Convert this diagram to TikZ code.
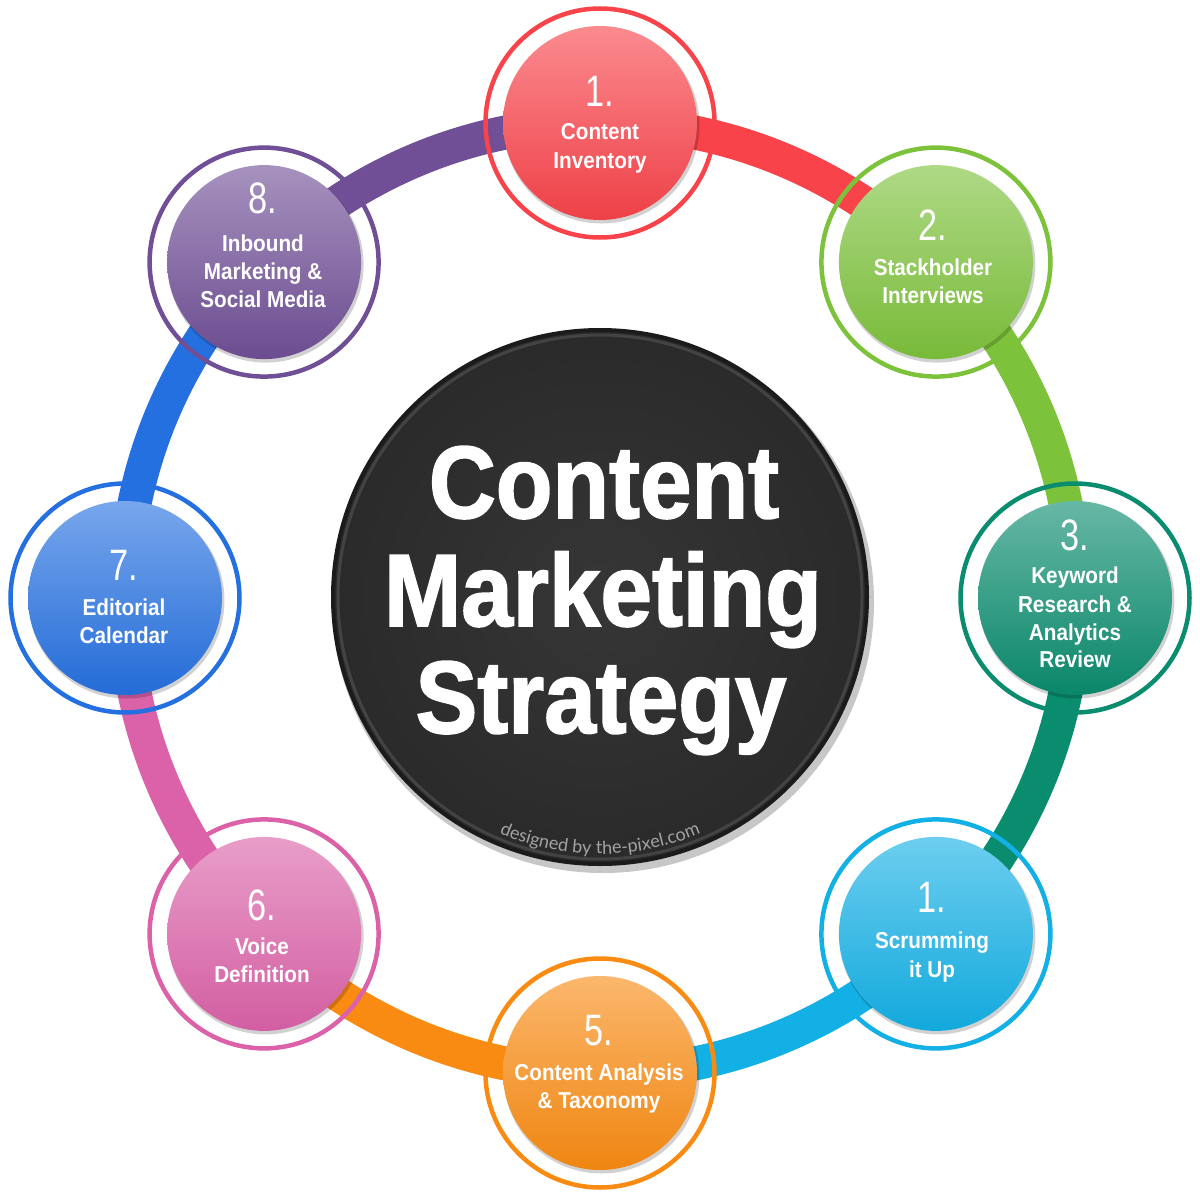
\documentclass[tikz,border=0pt]{standalone}
\usepackage{fontspec}
\setmainfont{Liberation Sans}
\newfontfamily\condfont{Liberation Sans}[FakeStretch=0.9]
\newfontfamily\numfont{Liberation Sans}[FakeStretch=0.78]
\newfontfamily\titlefont{Liberation Sans}[FakeStretch=0.9,FakeBold=1.6]
\newfontfamily\creditfont{Lato}
\usetikzlibrary{decorations.text}
\definecolor{cRed}{HTML}{F8434A}
\definecolor{cGreen}{HTML}{7DC23B}
\definecolor{cTeal}{HTML}{0A8C6E}
\definecolor{cCyan}{HTML}{13B0E5}
\definecolor{cOrange}{HTML}{F98B12}
\definecolor{cPink}{HTML}{DB62A8}
\definecolor{cBlue}{HTML}{2570E0}
\definecolor{cPurple}{HTML}{704F96}
\definecolor{hubdark}{HTML}{1B1B1B}
\definecolor{hubmid}{HTML}{363636}
\definecolor{credit}{HTML}{A3A3A3}
\begin{document}
\begin{tikzpicture}[x=1pt,y=1pt,
  band/.style={draw=#1, line width=34pt},
  ringnode/.style={circle, draw=#1, line width=4.5pt, minimum size=229pt, inner sep=0pt},
  disknode/.style={circle, minimum size=194pt, inner sep=0pt,
     top color=#1!62!white, middle color=#1, bottom color=#1!96!black},
  disksh/.style={circle, minimum size=196pt, inner sep=0pt, fill=black, opacity=0.18},
  numst/.style={anchor=base, text=white, font=\numfont\fontsize{44}{44}\selectfont, inner sep=0pt},
  linest/.style={anchor=base, text=white, font=\condfont\bfseries\fontsize{23}{28}\selectfont, inner sep=0pt},
  titlest/.style={anchor=base, text=white, font=\titlefont\bfseries\fontsize{103}{107}\selectfont,
     inner sep=0pt, text height=76pt, text depth=22pt}
]
\useasboundingbox (0,0) rectangle (1200,-1196);
\fill[white] (0,0) rectangle (1200,-1196);

% centres of the eight steps
\coordinate (n1) at (600,-123);
\coordinate (n2) at (935.9,-262.1);
\coordinate (n3) at (1075,-598);
\coordinate (n4) at (935.9,-933.9);
\coordinate (n5) at (600,-1073);
\coordinate (n6) at (264.1,-933.9);
\coordinate (n7) at (125,-598);
\coordinate (n8) at (264.1,-262.1);

% ring bands
\draw[band=cRed]    (n1) arc[start angle=90,   end angle=45,   radius=475];
\draw[band=cGreen]  (n2) arc[start angle=45,   end angle=0,    radius=475];
\draw[band=cTeal]   (n3) arc[start angle=0,    end angle=-45,  radius=475];
\draw[band=cCyan]   (n4) arc[start angle=-45,  end angle=-90,  radius=475];
\draw[band=cOrange] (n5) arc[start angle=-90,  end angle=-135, radius=475];
\draw[band=cPink]   (n6) arc[start angle=-135, end angle=-180, radius=475];
\draw[band=cBlue]   (n7) arc[start angle=-180, end angle=-225, radius=475];
\draw[band=cPurple] (n8) arc[start angle=135,  end angle=90,   radius=475];

% outer rings
\node[ringnode=cRed]    (r1) at (n1) {};
\node[ringnode=cGreen]  (r2) at (n2) {};
\node[ringnode=cTeal]   (r3) at (n3) {};
\node[ringnode=cCyan]   (r4) at (n4) {};
\node[ringnode=cOrange] (r5) at (n5) {};
\node[ringnode=cPink]   (r6) at (n6) {};
\node[ringnode=cBlue]   (r7) at (n7) {};
\node[ringnode=cPurple] (r8) at (n8) {};

% inner discs (shadow + glossy fill)
\foreach \n in {1,...,8} {
  \node[disksh] (s\n) at ([shift={(1.5,-2.5)}]n\n) {};
}
\node[disknode=cRed]    (d1) at (n1) {};
\node[disknode=cGreen]  (d2) at (n2) {};
\node[disknode=cTeal]   (d3) at (n3) {};
\node[disknode=cCyan]   (d4) at (n4) {};
\node[disknode=cOrange] (d5) at (n5) {};
\node[disknode=cPink]   (d6) at (n6) {};
\node[disknode=cBlue]   (d7) at (n7) {};
\node[disknode=cPurple] (d8) at (n8) {};

% step 1
\node[numst]  (t1n) at (600,-107) {1.};
\node[linest] (t1a) at (600,-140) {Content};
\node[linest] (t1b) at (600,-168) {Inventory};
% step 2
\node[numst]  (t2n) at (933,-240) {2.};
\node[linest] (t2a) at (933,-275) {Stackholder};
\node[linest] (t2b) at (933,-303) {Interviews};
% step 3
\node[numst]  (t3n) at (1075,-550) {3.};
\node[linest] (t3a) at (1075,-583) {Keyword};
\node[linest] (t3b) at (1075,-612) {Research \&};
\node[linest] (t3c) at (1075,-640) {Analytics};
\node[linest] (t3d) at (1075,-667) {Review};
% step 4
\node[numst]  (t4n) at (932,-912) {1.};
\node[linest] (t4a) at (932,-948) {Scrumming};
\node[linest] (t4b) at (932,-977) {it Up};
% step 5
\node[numst]  (t5n) at (599,-1045) {5.};
\node[linest] (t5a) at (599,-1080) {Content Analysis};
\node[linest] (t5b) at (599,-1108) {\& Taxonomy};
% step 6
\node[numst]  (t6n) at (262,-920) {6.};
\node[linest] (t6a) at (262,-954) {Voice};
\node[linest] (t6b) at (262,-982) {Definition};
% step 7
\node[numst]  (t7n) at (124,-580) {7.};
\node[linest] (t7a) at (124,-615) {Editorial};
\node[linest] (t7b) at (124,-643) {Calendar};
% step 8
\node[numst]  (t8n) at (263,-214) {8.};
\node[linest] (t8a) at (263,-251) {Inbound};
\node[linest] (t8b) at (263,-279) {Marketing \&};
\node[linest] (t8c) at (263,-307) {Social Media};

% central hub
\fill[black, opacity=0.22] (603,-602) circle[radius=271];
\node[circle, minimum size=534pt, inner sep=0pt, inner color=hubmid, outer color=hubmid!78!black,
      draw=hubdark, line width=4pt] (hub) at (600,-597) {};
\draw[white, opacity=0.12, line width=3pt] (hub.center) circle[radius=262];

% title
\node[titlest] (h1) at (604,-518) {Content};
\node[titlest] (h2) at (603,-626) {Marketing};
\node[titlest] (h3) at (601,-733) {Strategy};

% credit along the bottom of the hub
\path[decorate, decoration={text along path, text align=center, text color=credit,
   text={|\creditfont\fontsize{18}{18}\selectfont|designed by the-pixel.com}}]
   (hub.center) ++(243:257) arc[start angle=243, end angle=297, radius=257];
\end{tikzpicture}
\end{document}
